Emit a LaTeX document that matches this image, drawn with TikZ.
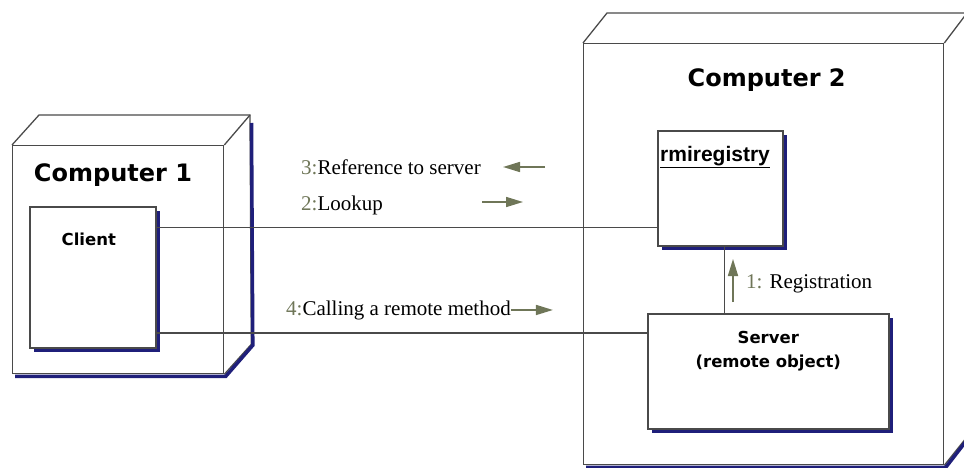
\documentclass[tikz,border=0pt]{standalone}
\usepackage{fontspec}
\setmainfont{Liberation Serif}
\newfontfamily\headfont{DejaVu Sans}
\newfontfamily\regfont{Liberation Sans}
\usepackage{tikz}
\usetikzlibrary{arrows.meta,positioning,calc,shadows}
\definecolor{edge}{HTML}{4A4A4A}
\definecolor{shade}{HTML}{1F1F7A}
\definecolor{msg}{HTML}{6F7658}

\begin{document}
\begin{tikzpicture}[x=1pt,y=-1pt,
  cubebox/.style={draw=edge,line width=1.3pt,fill=white,inner sep=0pt,anchor=north west},
  cubeedge/.style={draw=edge,line width=1.3pt,line join=miter},
  cubeshade/.style={draw=shade,line width=3.5pt,line join=miter},
  partbox/.style={draw=edge,line width=1.6pt,fill=white,inner sep=0pt,anchor=north west,
    general shadow={fill=shade,shadow xshift=4pt,shadow yshift=-4pt}},
  comptitle/.style={font=\headfont\bfseries\fontsize{24}{28}\selectfont},
  partname/.style={font=\headfont\bfseries\fontsize{16.5}{24}\selectfont,align=center},
  link/.style={draw=edge,line width=1.2pt},
  msgtext/.style={font=\fontsize{21}{24}\selectfont,anchor=base west,inner sep=0pt},
  msgarrow/.style={draw=msg,line width=1.6pt,-{Triangle[length=17pt,width=10pt]}}
]
\useasboundingbox (0,0) rectangle (964,468);
\clip (0,0) rectangle (964,468);

% computer 1
\node[cubebox,minimum width=211pt,minimum height=228pt] (comp1) at (12,145) {};
\draw[cubeedge] (comp1.north west) -- ++(27,-30) -- ++(211,0) coordinate (c1back)
  -- ($(comp1.south east)+(27,-30)$) -- (comp1.south east);
\draw[cubeedge] (comp1.north east) -- (c1back);
\draw[cubeshade] ($(c1back)+(1.5,8)$) -- ($(comp1.south east)+(28.5,-29)$)
  -- ($(comp1.south east)+(1.5,2)$) -- ($(comp1.south west)+(3,2)$);
\node[comptitle] (comp1title) at (113,175) {Computer 1};

% computer 2
\node[cubebox,minimum width=360pt,minimum height=421pt] (comp2) at (583,43) {};
\draw[cubeedge] (comp2.north west) -- ++(24,-30) -- ++(360,0) coordinate (c2back)
  -- ($(comp2.south east)+(24,-30)$) -- (comp2.south east);
\draw[cubeedge] (comp2.north east) -- (c2back);
\draw[cubeshade] ($(c2back)+(1.5,8)$) -- ($(comp2.south east)+(25.5,-29)$)
  -- ($(comp2.south east)+(1.5,2)$) -- ($(comp2.south west)+(3,2)$);
\node[comptitle] (comp2title) at ($(comp2.north)+(3,37)$) {Computer 2};

% parts
\node[partbox,minimum width=126pt,minimum height=141pt] (client) at (29,206) {};
\node[partname] (clientname) at ($(client.north)+(-4,33)$) {Client};
\node[partbox,minimum width=125pt,minimum height=115pt] (rmireg) at (657,130) {};
\node[font=\regfont\bfseries\fontsize{21}{24}\selectfont,anchor=north west,inner sep=0pt]
  (rmiregname) at ($(rmireg.north west)+(3,16)$) {\underline{rmiregistry}};
\node[partbox,minimum width=241pt,minimum height=115pt] (server) at (647,313) {};
\node[partname] (servername) at ($(server.north)+(0,38)$) {Server\\(remote object)};

% links
\coordinate (lookupend) at ($(rmireg.south west)+(0,-19)$);
\draw[link] (client.east |- lookupend) -- (lookupend);
\coordinate (callend) at ($(server.north west)+(0,20)$);
\draw[link] (client.east |- callend) -- (callend);
\coordinate (regfoot) at ($(rmireg.south)+(4,0)$);
\draw[link] (regfoot) -- (regfoot |- server.north);

% messages
\node[msgtext] (msgref) at (301,175) {\textcolor{msg}{3:}Reference to server};
\coordinate (refA) at (545,167);
\coordinate (refB) at (503,167);
\draw[msgarrow] (refA) -- (refB);
\node[msgtext] (msglook) at (301,211) {\textcolor{msg}{2:}Lookup};
\coordinate (lookA) at (482,202);
\coordinate (lookB) at (523,202);
\draw[msgarrow] (lookA) -- (lookB);
\node[msgtext] (msgcall) at (286,315) {\textcolor{msg}{4:}Calling a remote method};
\draw[msgarrow] (msgcall.east) -- ++(42,0);
\node[msgtext] (msgreg) at (746,288) {\textcolor{msg}{1:} Registration};
\coordinate (regA) at (733,302);
\coordinate (regB) at (733,259);
\draw[msgarrow] (regA) -- (regB);
\end{tikzpicture}
\end{document}
